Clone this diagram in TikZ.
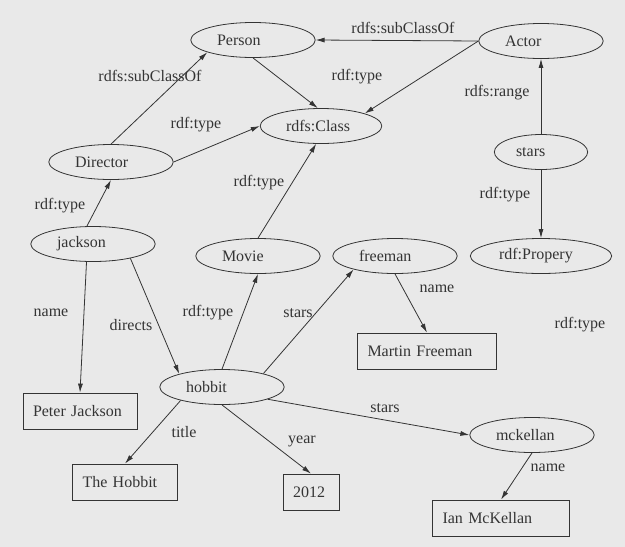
\documentclass[tikz,border=0pt]{standalone}
\usepackage{fontspec}
\setmainfont{Liberation Serif}
\usetikzlibrary{shapes.geometric,arrows.meta}
\definecolor{paper}{RGB}{233,233,233}
\definecolor{ink}{RGB}{52,52,52}
\begin{document}
\begin{tikzpicture}[x=1pt, y=-1pt, font=\rmfamily\fontsize{16}{19}\selectfont, text=ink,
		res/.style = {draw=ink, ellipse, line width=0.8pt, text width=#1, align=left, inner xsep=8pt, inner ysep=2pt, minimum height=35pt},
		res/.default = 72pt,
		lit/.style = {draw=ink, rectangle, line width=0.8pt, text width=#1, align=left, inner xsep=10pt, minimum height=36pt},
		prop/.style = {inner sep=1pt},
		arc/.style = {draw=ink, line width=0.8pt, -{Latex[length=9pt,width=5pt]}}]
			\fill[paper] (0,0) rectangle (625,547);
			\useasboundingbox (0,0) rectangle (625,547);
			\node[res] (person) at (253,40) {Person};
			\node[res] (actor) at (541,41) {Actor};
			\node[res=70pt] (class) at (321,126) {rdfs:Class};
			\node[res] (director) at (111,162) {Director};
			\node[res=50pt] (stars) at (541,152) {stars};
			\node[res] (jackson) at (93,244) {jackson};
			\node[res] (movie) at (258,256) {Movie};
			\node[res] (freeman) at (395,256) {freeman};
			\node[res=84pt] (propery) at (541,256) {rdf:Propery};
			\node[res] (hobbit) at (222,387) {hobbit};
			\node[res] (mckellan) at (532,435) {mckellan};
			\node[lit=94pt] (peter) at (80,411) {Peter Jackson};
			\node[lit=119pt] (martin) at (427,351) {Martin Freeman};
			\node[lit=85pt] (thehobbit) at (125,482) {The Hobbit};
			\node[lit=36pt] (year) at (311,492) {2012};
			\node[lit=117pt] (ian) at (501,518) {Ian McKellan};
			\draw[arc] (director.north) -- (person.195);
			\draw[arc] (person.south) -- (class.100);
			\draw[arc] (actor.west) -- (person.east);
			\draw[arc] (actor.west) -- (class.16);
			\draw[arc] (director.east) -- (class.west);
			\draw[arc] (movie.north) -- (class.255);
			\draw[arc] (stars.north) -- (actor.south);
			\draw[arc] (stars.south) -- (propery.north);
			\draw[arc] (jackson.109) -- (director.south);
			\draw[arc] (jackson.250) -- (peter.north);
			\draw[arc] (jackson.339) -- (hobbit.163);
			\draw[arc] (hobbit.north) -- (movie.south);
			\draw[arc] (hobbit.18) -- (freeman.198);
			\draw[arc] (freeman.south) -- (martin.north);
			\draw[arc] (hobbit.198) -- (thehobbit.north);
			\draw[arc] (hobbit.south) -- (year.north);
			\draw[arc] (hobbit.345) -- (mckellan.west);
			\draw[arc] (mckellan.south) -- (ian.north);
			\node[prop] (dirsub) at (150,76) {rdfs:subClassOf};
			\node[prop] (actsub) at (403,28) {rdfs:subClassOf};
			\node[prop] (pertype) at (357,77) {rdf:type};
			\node[prop] (dirtype) at (196,125) {rdf:type};
			\node[prop] (movtype) at (259,183) {rdf:type};
			\node[prop] (range) at (497,93) {rdfs:range};
			\node[prop] (startype) at (505,195) {rdf:type};
			\node[prop] (jactype) at (60,206) {rdf:type};
			\node[prop] (jacname) at (51,313) {name};
			\node[prop] (directs) at (131,325) {directs};
			\node[prop] (hobtype) at (208,313) {rdf:type};
			\node[prop] (starsfree) at (298,313) {stars};
			\node[prop] (freename) at (437,289) {name};
			\node[prop] (looseype) at (580,325) {rdf:type};
			\node[prop] (title) at (184,432) {title};
			\node[prop] (yearlab) at (302,441) {year};
			\node[prop] (starsmck) at (385,408) {stars};
			\node[prop] (mckname) at (548,468) {name};
		\end{tikzpicture}
\end{document}
